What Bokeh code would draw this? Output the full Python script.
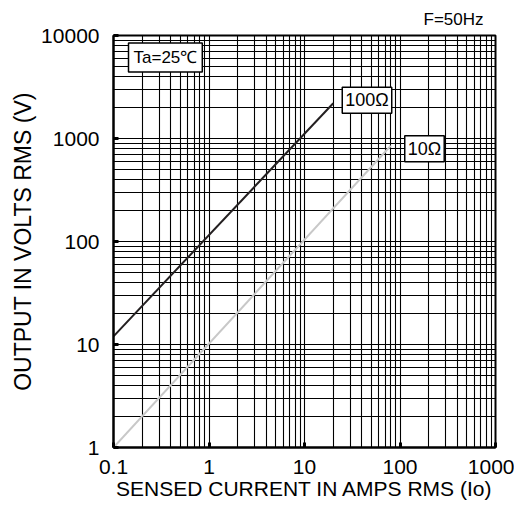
from bokeh.plotting import figure
from bokeh.models import FixedTicker, CustomJSTickFormatter, Label, ColumnDataSource
from bokeh.embed import file_html
from bokeh.resources import INLINE

# ---- data ----
x_major = [0.1, 1, 10, 100, 1000]
y_major = [1, 10, 100, 1000, 10000]
x_minor = [m * d for d in [0.1, 1, 10, 100] for m in range(2, 10)]
y_minor = [m * d for d in [1, 10, 100, 1000] for m in range(2, 10)]

r100_current = [0.1, 20]
r100_volts = [12, 2200]
r10_current = [0.1, 80]
r10_volts = [1, 850]

series_labels = ["100Ω", "10Ω"]
FONT = "Liberation Sans"

p = figure(width=514, height=515, x_axis_type="log", y_axis_type="log",
           x_range=(0.1, 1000), y_range=(1, 10000),
           output_backend="svg", toolbar_location=None,
           min_border_left=113, min_border_right=19,
           min_border_top=35, min_border_bottom=68)

p.title.text = "F=50Hz"
p.title.align = "right"
p.title.text_font = FONT
p.title.text_font_size = "17px"
p.title.text_font_style = "normal"
p.title.text_color = "black"
p.title.offset = 12
p.title.standoff = 14

p.outline_line_color = "black"
p.outline_line_width = 2
p.background_fill_color = "white"
p.border_fill_color = "white"

p.xaxis.ticker = FixedTicker(ticks=x_major, minor_ticks=x_minor)
p.yaxis.ticker = FixedTicker(ticks=y_major, minor_ticks=y_minor)
p.xaxis.formatter = CustomJSTickFormatter(code="return String(parseFloat(tick.toPrecision(6)));")
p.yaxis.formatter = CustomJSTickFormatter(code="return String(parseFloat(tick.toPrecision(6)));")

for ax in (p.xaxis, p.yaxis):
    ax.axis_line_color = "black"
    ax.axis_line_width = 2
    ax.major_tick_in = 5
    ax.major_tick_out = 0
    ax.major_tick_line_width = 3
    ax.major_tick_line_color = "black"
    ax.minor_tick_line_color = None
    ax.major_label_text_font = FONT
    ax.major_label_text_font_size = "21px"
    ax.major_label_text_color = "black"
    ax.major_label_standoff = 10
    ax.axis_label_text_font = FONT
    ax.axis_label_text_font_style = "normal"
    ax.axis_label_text_color = "black"

p.xaxis.major_label_standoff = 8
p.xaxis.axis_label = "SENSED CURRENT IN AMPS RMS (Io)"
p.xaxis.axis_label_text_font_size = "21px"
p.xaxis.axis_label_standoff = 0
p.yaxis.axis_label = "OUTPUT IN VOLTS RMS (V)"
p.yaxis.axis_label_text_font_size = "23px"
p.yaxis.axis_label_standoff = 2

for g in (p.xgrid, p.ygrid):
    g.grid_line_color = "black"
    g.grid_line_width = 1.1
    g.grid_line_alpha = 1
    g.minor_grid_line_color = "black"
    g.minor_grid_line_width = 1.1

src100 = ColumnDataSource(dict(x=r100_current, y=r100_volts))
src10 = ColumnDataSource(dict(x=r10_current, y=r10_volts))
p.line("x", "y", source=src100, line_color="#231f20", line_width=2)
p.line("x", "y", source=src10, line_color="#c8c8c8", line_width=2)

def box_label(text, x, y, xoff, yoff, size):
    return Label(x=x, y=y, x_offset=xoff, y_offset=yoff, text=text,
                 text_font=FONT, text_font_size=size, text_color="black",
                 anchor="center_left", text_baseline="middle",
                 background_fill_color="white", border_line_color="black",
                 border_line_width=1.5, padding=3)

p.add_layout(box_label(series_labels[0], r100_current[-1], r100_volts[-1], 9, 3, "18px"))
p.add_layout(box_label(series_labels[1], r10_current[-1], r10_volts[-1], 14, -3, "18px"))

p.add_layout(Label(x=15, y=390, x_units="screen", y_units="screen", text="Ta=25℃",
                   text_font=FONT, text_font_size="17px", text_color="black",
                   anchor="center_left", text_baseline="middle",
                   background_fill_color="white", border_line_color="black",
                   border_line_width=1.5, padding=5))

open("out.html", "w").write(file_html(p, INLINE))
